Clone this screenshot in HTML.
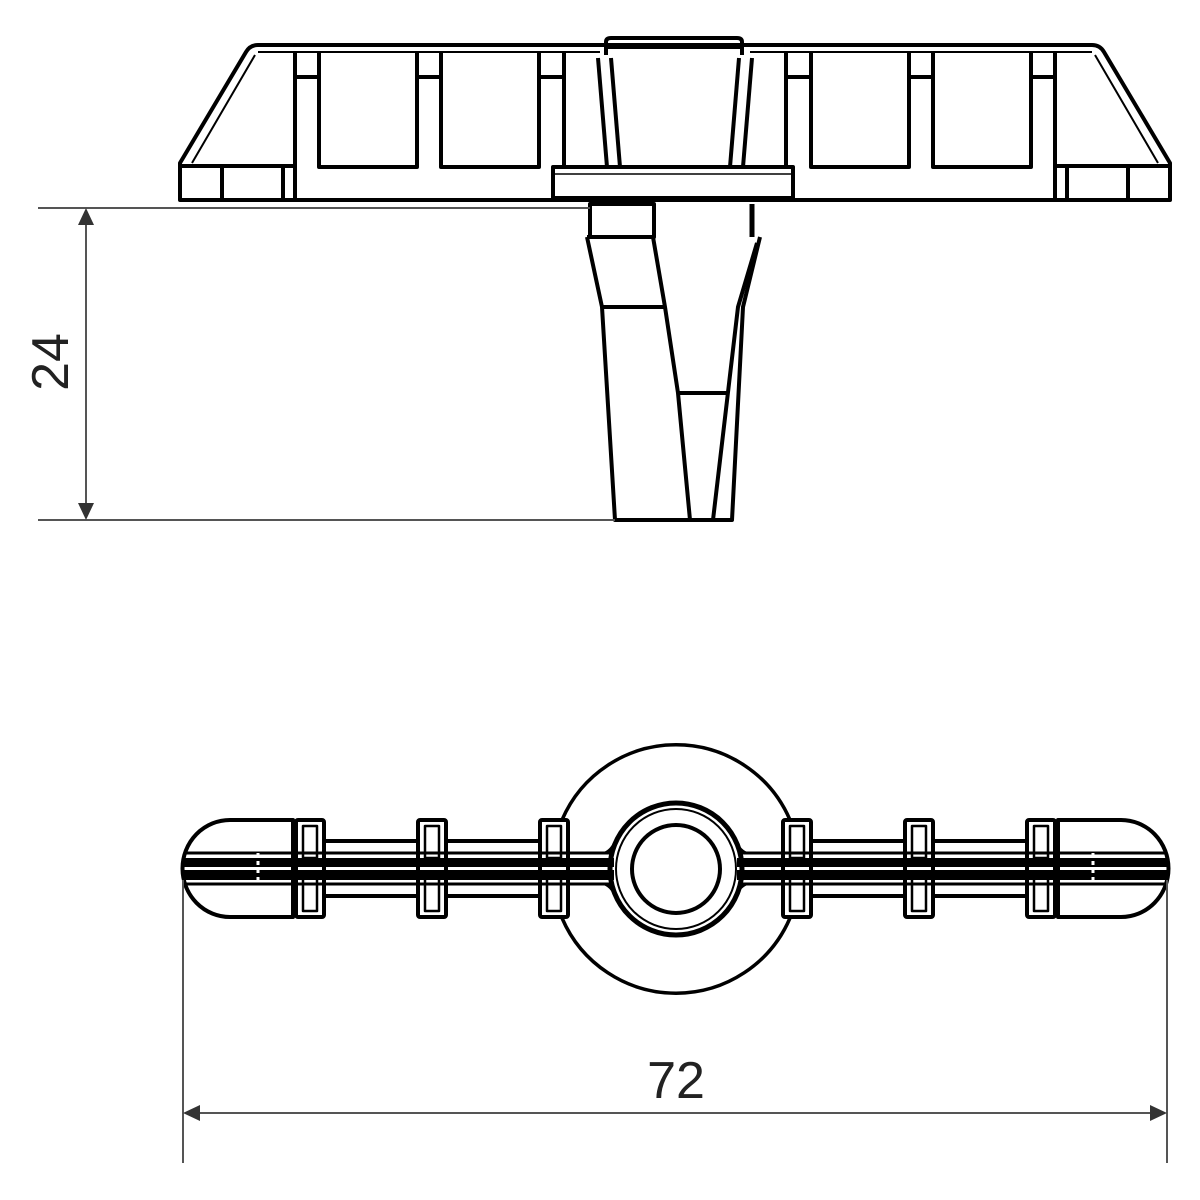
<!DOCTYPE html>
<html><head><meta charset="utf-8"><style>
html,body{margin:0;padding:0;background:#fff;}
svg{display:block;}
</style></head><body>
<svg width="1200" height="1200" viewBox="0 0 1200 1200" xmlns="http://www.w3.org/2000/svg">
<defs>
<g id="half" fill="none" stroke="#000" stroke-width="4" stroke-linejoin="round">
  <path d="M675,45 L258,45 Q250,45 246,52 L180,163 L180,200 L675,200"/>
  <path d="M255,55 L192,163" stroke-width="2"/>
  <line x1="258" y1="52" x2="600" y2="52" stroke-width="2"/>
  <line x1="180" y1="166" x2="295" y2="166"/>
  <line x1="222" y1="166" x2="222" y2="200"/>
  <line x1="283" y1="166" x2="283" y2="200"/>
  <line x1="295" y1="52" x2="295" y2="200"/>
  <line x1="297" y1="77" x2="318" y2="77"/>
  <line x1="419" y1="77" x2="440" y2="77"/>
  <line x1="541" y1="77" x2="562" y2="77"/>
  <path d="M319,52 L319,167 L417,167 L417,52"/>
  <path d="M441,52 L441,167 L539,167 L539,52"/>
  <line x1="564" y1="52" x2="564" y2="167"/>
  <line x1="598" y1="58" x2="607" y2="167"/>
  <line x1="611" y1="58" x2="620" y2="167"/>
</g>
<g id="bhalf" fill="none" stroke="#000" stroke-linejoin="round">
  <path d="M293,820 L230,820 A47,48 0 0 0 230,917 L293,917 Z" stroke-width="4"/>
  <g stroke-width="4">
    <rect x="296" y="820" width="28" height="97" rx="2"/>
    <rect x="418" y="820" width="28" height="97" rx="2"/>
    <rect x="540" y="820" width="28" height="97" rx="2"/>
  </g>
  <g stroke-width="2.5">
    <rect x="303" y="826" width="14" height="32"/>
    <rect x="303" y="878" width="14" height="33"/>
    <rect x="425" y="826" width="14" height="32"/>
    <rect x="425" y="878" width="14" height="33"/>
    <rect x="547" y="826" width="14" height="32"/>
    <rect x="547" y="878" width="14" height="33"/>
  </g>
  <g stroke-width="4">
    <line x1="324" y1="841" x2="418" y2="841"/>
    <line x1="446" y1="841" x2="540" y2="841"/>
    <line x1="324" y1="896" x2="418" y2="896"/>
    <line x1="446" y1="896" x2="540" y2="896"/>
  </g>
  <line x1="186" y1="853" x2="613" y2="853" stroke-width="3"/>
  <line x1="186" y1="884" x2="613" y2="884" stroke-width="3"/>
  <rect x="184" y="858" width="430" height="9" fill="#000" stroke="none"/>
  <rect x="184" y="870" width="430" height="10" fill="#000" stroke="none"/>
  <path d="M568,853 L605,853 Q612,850 616,840" stroke-width="3"/>
  <path d="M568,884 L605,884 Q612,887 616,897" stroke-width="3"/>
</g>
</defs>

<use href="#half"/>
<use href="#half" transform="translate(1350,0) scale(-1,1)"/>
<g fill="none" stroke="#000" stroke-width="4" stroke-linejoin="round">
  <path d="M606,55 L606,42 Q606,38 611,38 L737,38 Q742,38 742,42 L742,55"/>
  <line x1="606" y1="48" x2="742" y2="48" stroke-width="2"/>
  <rect x="553" y="167" width="240" height="31" fill="#fff"/>
  <line x1="553" y1="174" x2="793" y2="174" stroke-width="1.5"/>
  <rect x="590" y="204" width="64" height="33"/>
  <line x1="752" y1="204" x2="752" y2="237" stroke-width="5"/>
  <path d="M587,237 L602,307 L615,520 L732,520 L743,307 L760,237"/>
  <path d="M587,237 L653,237 L665,307 L678,393 L690,520"/>
  <line x1="602" y1="307" x2="665" y2="307"/>
  <path d="M757,243 L738,307 L713,520"/>
  <line x1="678" y1="393" x2="727" y2="393"/>
</g>

<g stroke="#555" stroke-width="2" fill="none">
  <line x1="38" y1="208" x2="590" y2="208"/>
  <line x1="38" y1="520" x2="615" y2="520"/>
  <line x1="86" y1="225" x2="86" y2="503"/>
</g>
<path d="M86,208 L78,225 L94,225 Z M86,520 L78,503 L94,503 Z" fill="#333"/>
<text x="0" y="0" transform="translate(68,362) rotate(-90)" text-anchor="middle" font-family="Liberation Sans, sans-serif" font-size="52" fill="#222">24</text>

<g fill="none" stroke="#000">
  <path d="M562,820 A124,124 0 0 1 790,820" stroke-width="3.5"/>
  <path d="M562,918 A124,124 0 0 0 790,918" stroke-width="3.5"/>
</g>
<use href="#bhalf"/>
<use href="#bhalf" transform="translate(1351,0) scale(-1,1)"/>
<g fill="none" stroke="#000">
  <circle cx="676" cy="869" r="66" stroke-width="5"/>
  <circle cx="676" cy="869" r="60" stroke-width="2"/>
  <circle cx="676" cy="869" r="44" stroke-width="4"/>
  <line x1="258" y1="853" x2="258" y2="884" stroke="#fff" stroke-width="3" stroke-dasharray="4 4"/>
  <line x1="1093" y1="853" x2="1093" y2="884" stroke="#fff" stroke-width="3" stroke-dasharray="4 4"/>
</g>

<g stroke="#555" stroke-width="2" fill="none">
  <line x1="183" y1="880" x2="183" y2="1163"/>
  <line x1="1167" y1="880" x2="1167" y2="1163"/>
  <line x1="200" y1="1113" x2="1150" y2="1113"/>
</g>
<path d="M183,1113 L200,1105 L200,1121 Z M1167,1113 L1150,1105 L1150,1121 Z" fill="#333"/>
<text x="676" y="1098" text-anchor="middle" font-family="Liberation Sans, sans-serif" font-size="52" fill="#222">72</text>
</svg>
</body></html>
